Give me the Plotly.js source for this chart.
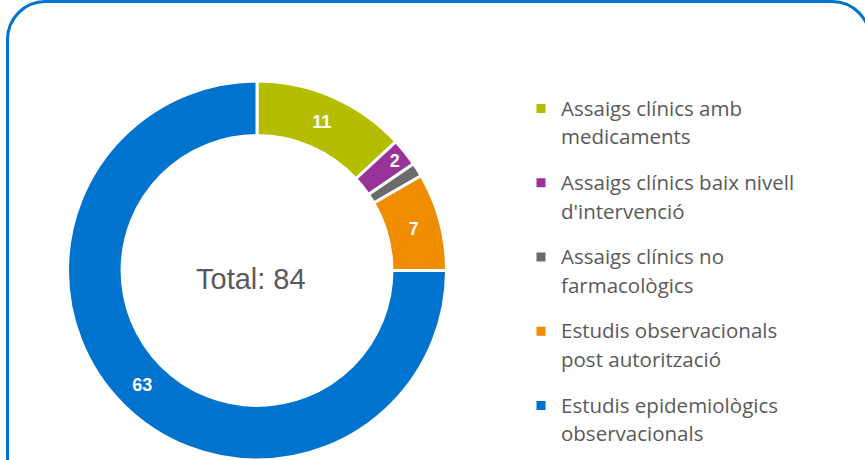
<!DOCTYPE html>
<html><head><meta charset="utf-8">
<script src="https://cdn.plot.ly/plotly-3.0.1.min.js"></script>
<style>html,body{margin:0;padding:0;background:#fff;}#chart{width:865px;height:460px;}</style>
</head><body><div id="chart"></div>
<script>
// ---- data ----
const categories = [
  "Assaigs clínics amb medicaments",
  "Assaigs clínics baix nivell d'intervenció",
  "Assaigs clínics no farmacològics",
  "Estudis observacionals post autorització",
  "Estudis epidemiològics observacionals"
];
const labelLine1 = ["Assaigs clínics amb", "Assaigs clínics baix nivell", "Assaigs clínics no", "Estudis observacionals", "Estudis epidemiològics"];
const labelLine2 = ["medicaments", "d'intervenció", "farmacològics", "post autorització", "observacionals"];
const values = [11, 2, 1, 7, 63];
const sliceTextTemplates = ["%{value}", "%{value}", "", "%{value}", "%{value}"];
const colors = ["#B5BD00", "#993399", "#6B6B6B", "#F08C00", "#0073CF"];
const totalLabel = "Total: ";

// ---- layout helpers ----
const W = 865, H = 460;
const px = x => x / W, py = y => 1 - y / H;
const glyph = 'font-size:20.5px';
const legendLabels = labelLine1.map((l1, i) =>
  '<span style="' + glyph + '">' + l1 + '</span><br>' +
  '<span style="' + glyph + ';baseline-shift:-5.2px">' + labelLine2[i] + '</span><br>\u00a0');

const total = values.reduce((a, b) => a + b, 0);

// rounded border path (pixel -> paper)
const L = 7.5, T = 1.5, R = 870, B = 480, r = 38, k = 0.5523 * r;
const P = (x, y) => px(x).toFixed(5) + ',' + py(y).toFixed(5);
const borderPath = 'M' + P(L, B) + ' L' + P(L, T + r) +
  ' C' + P(L, T + r - k) + ' ' + P(L + r - k, T) + ' ' + P(L + r, T) +
  ' L' + P(R - r, T) +
  ' C' + P(R - r + k, T) + ' ' + P(R, T + r - k) + ' ' + P(R, T + r) +
  ' L' + P(R, B);

const trace = {
  type: 'pie',
  labels: legendLabels,
  values: values,
  customdata: categories,
  sort: false,
  direction: 'clockwise',
  rotation: 0,
  hole: 0.712,
  marker: {colors: colors, line: {color: '#ffffff', width: 3}},
  texttemplate: sliceTextTemplates,
  textposition: 'inside',
  insidetextorientation: 'horizontal',
  textfont: {family: 'Liberation Sans, Arial, sans-serif', size: 18, color: '#ffffff', weight: 'bold'},
  hovertemplate: '%{customdata}: %{value}<extra></extra>',
  domain: {x: [px(257 - 189.5), px(257 + 189.5)], y: [0, 379 / H]}
};

const layout = {
  width: W, height: H,
  margin: {l: 0, r: 0, t: 0, b: 0, autoexpand: false},
  paper_bgcolor: '#ffffff',
  showlegend: true,
  legend: {
    x: px(528), y: py(90), xanchor: 'left', yanchor: 'top',
    font: {family: 'Open Sans, sans-serif', size: 18.27, color: '#595959'},
    valign: 'top', indentation: -7, bgcolor: 'rgba(0,0,0,0)'
  },
  annotations: [{
    text: totalLabel + total, showarrow: false,
    x: px(251), y: py(279), xref: 'paper', yref: 'paper',
    xanchor: 'center', yanchor: 'middle',
    font: {family: 'Liberation Sans, Arial, sans-serif', size: 29, color: '#595959'}
  }],
  shapes: [{
    type: 'path', xref: 'paper', yref: 'paper', path: borderPath,
    line: {color: '#0073CF', width: 3}, fillcolor: 'rgba(0,0,0,0)', layer: 'above'
  }]
};

Plotly.newPlot('chart', [trace], layout, {displayModeBar: false, staticPlot: true});
</script></body></html>
